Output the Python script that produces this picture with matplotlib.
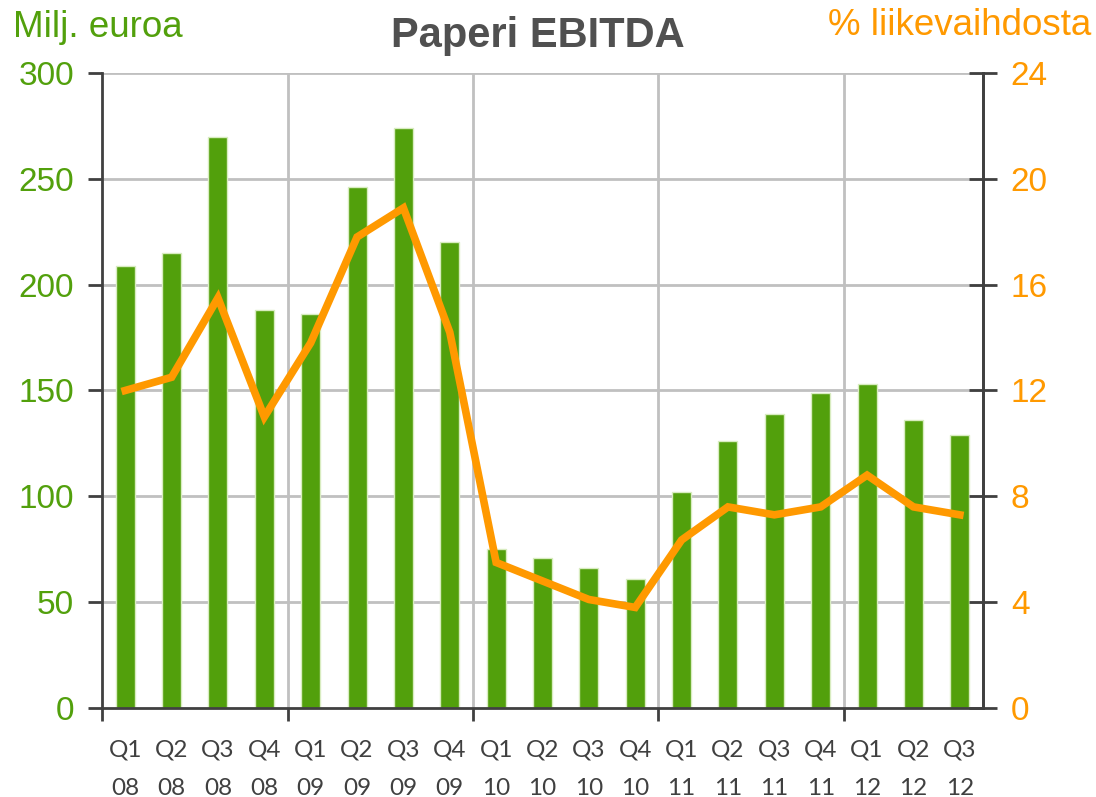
import matplotlib.pyplot as plt

# Paperi EBITDA, neljännesvuosittain
kvartaalit = ['Q1\n08', 'Q2\n08', 'Q3\n08', 'Q4\n08',
              'Q1\n09', 'Q2\n09', 'Q3\n09', 'Q4\n09',
              'Q1\n10', 'Q2\n10', 'Q3\n10', 'Q4\n10',
              'Q1\n11', 'Q2\n11', 'Q3\n11', 'Q4\n11',
              'Q1\n12', 'Q2\n12', 'Q3\n12']
ebitda_meur = [209, 215, 270, 188, 186, 246, 274, 220,
               75, 71, 66, 61, 102, 126, 139, 149, 153, 136, 129]
ebitda_pros = [12.0, 12.5, 15.5, 11.0, 13.8, 17.8, 18.9, 14.2,
               5.5, 4.8, 4.1, 3.8, 6.35, 7.6, 7.3, 7.6, 8.8, 7.6, 7.3]
vuoden_rajat = [3.5, 7.5, 11.5, 15.5]

vihrea = '#52A00C'
oranssi = '#FF9900'
harmaa = '#404040'
fontti = 'Liberation Sans'

fig = plt.figure(figsize=(10.96, 7.97), dpi=100)
ax = fig.add_axes([0.0931, 0.1117, 0.8038, 0.7967])
x = list(range(len(kvartaalit)))

# ruudukko
for y in range(50, 301, 50):
    ax.axhline(y, color='#C0C0C0', lw=2, zorder=0)
for xr in vuoden_rajat:
    ax.axvline(xr, color='#C0C0C0', lw=2, zorder=0)

ax.bar(x, ebitda_meur, width=0.41, color=vihrea, edgecolor='#D8ECC0',
       linewidth=1, zorder=2)
ax.set_xlim(-0.5, 18.5)
ax.set_ylim(0, 300)
ax.set_yticks(range(0, 301, 50))
ax.tick_params(axis='y', colors=harmaa, labelcolor=vihrea, labelsize=24,
               length=10, width=2, direction='out', pad=10)
for t in ax.get_yticklabels():
    t.set_fontfamily(fontti)

ax.set_xticks([-0.5] + vuoden_rajat)
ax.set_xticklabels([])
ax.tick_params(axis='x', which='major', length=9, width=2, colors=harmaa)
ax.set_xticks(x, minor=True)
ax.set_xticklabels(kvartaalit, minor=True, fontsize=17.5, color=harmaa,
                   family='Lato', linespacing=2.0)
ax.tick_params(axis='x', which='minor', length=0, pad=23)

for s in ['left', 'bottom', 'right']:
    ax.spines[s].set_color(harmaa)
    ax.spines[s].set_linewidth(2)
ax.spines['top'].set_visible(False)

ax2 = ax.twinx()
ax2.plot(x, ebitda_pros, color=oranssi, lw=5.5, solid_joinstyle='miter', zorder=3)
ax2.set_ylim(0, 24)
ax2.set_yticks(range(0, 25, 4))
ax2.tick_params(axis='y', colors=harmaa, labelcolor=oranssi, labelsize=24,
                length=20, width=2, direction='inout', pad=10)
for t in ax2.get_yticklabels():
    t.set_fontfamily(fontti)
for s in ['left', 'top', 'bottom']:
    ax2.spines[s].set_visible(False)
ax2.spines['right'].set_color(harmaa)
ax2.spines['right'].set_linewidth(2)

fig.text(0.491, 0.955, 'Paperi EBITDA', ha='center', va='center',
         fontsize=30, fontweight='bold', color='#505050', family=fontti)
fig.text(0.012, 0.965, 'Milj. euroa', ha='left', va='center',
         fontsize=26.5, color=vihrea, family=fontti)
fig.text(0.996, 0.968, '% liikevaihdosta', ha='right', va='center',
         fontsize=26.5, color=oranssi, family=fontti)

fig.savefig('out.png', dpi=100)
